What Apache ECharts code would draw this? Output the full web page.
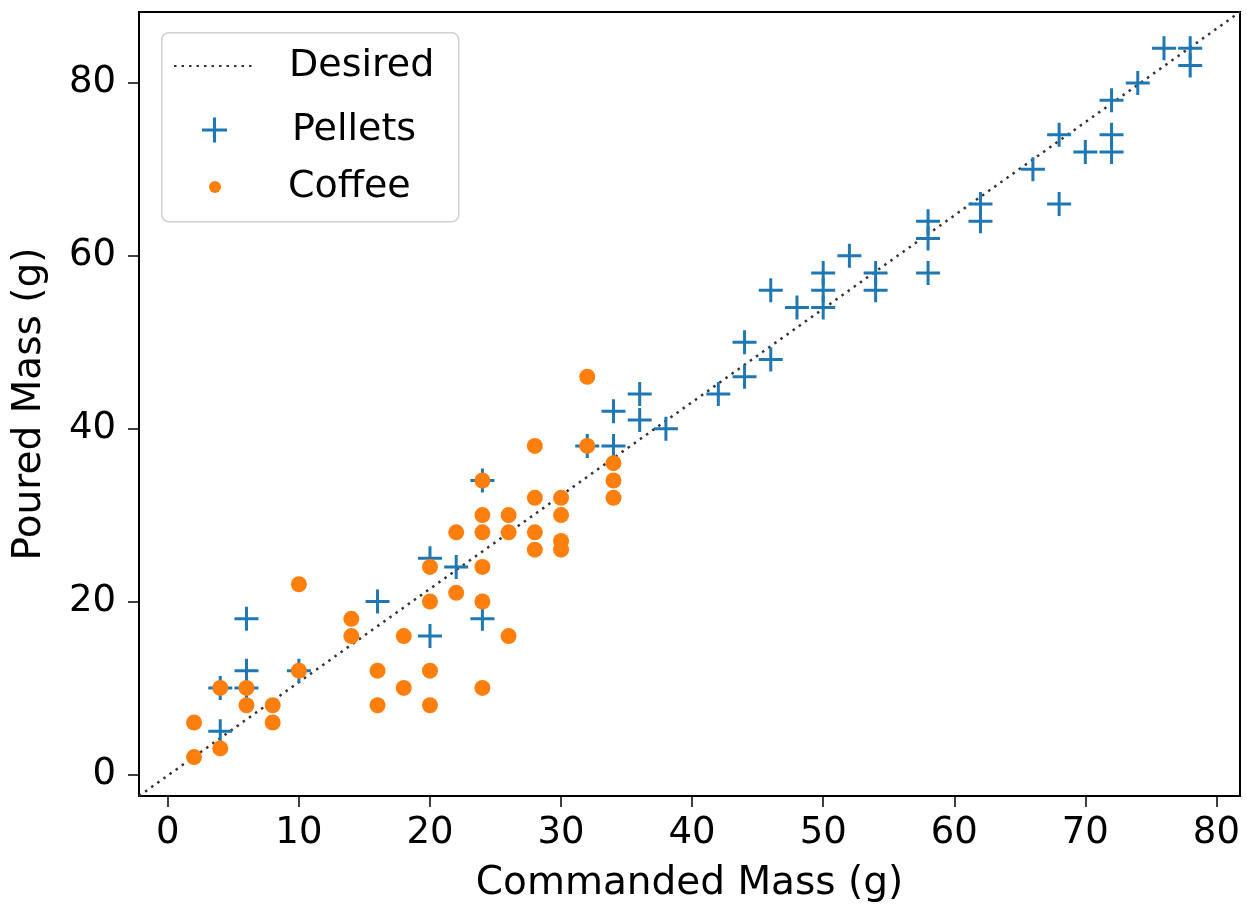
<!DOCTYPE html>
<html>
<head>
<meta charset="utf-8">
<script src="https://cdn.jsdelivr.net/npm/echarts@6/dist/echarts.min.js"></script>
<style>
  html, body { margin: 0; padding: 0; background: #fff; }
  #chart { width: 1247px; height: 908px; }
</style>
</head>
<body>
<div id="chart"></div>
<script>
// axis limits and ticks
const xLimits = [-2.2, 81.8];
const yLimits = [-2.5, 88.2];
const xTicks = [0, 10, 20, 30, 40, 50, 60, 70, 80];
const yTicks = [0, 20, 40, 60, 80];

// "Desired" reference line, corner to corner of the axes
const desiredX = [-2.2, 81.8];
const desiredY = [-2.5, 88.2];

// Pellets (commanded, poured)
const pelletsX = [4, 4, 6, 6, 6, 10, 16, 20, 20, 22, 24, 24, 32, 34, 34, 36, 36, 38, 42, 44, 44, 46, 46, 48, 50, 50, 50, 52, 54, 54, 58, 58, 58, 62, 62, 66, 68, 68, 70, 72, 72, 72, 74, 76, 78, 78];
const pelletsY = [5, 10, 10, 12, 18, 12, 20, 16, 25, 24, 34, 18, 38, 38, 42, 44, 41, 40, 44, 50, 46, 56, 48, 54, 58, 56, 54, 60, 58, 56, 64, 62, 58, 66, 64, 70, 74, 66, 72, 78, 74, 72, 80, 84, 84, 82];

// Coffee (commanded, poured)
const coffeeX = [2, 2, 4, 4, 6, 6, 8, 8, 10, 10, 14, 14, 16, 16, 18, 18, 20, 20, 20, 20, 22, 22, 24, 24, 24, 24, 24, 24, 26, 26, 26, 28, 28, 28, 28, 30, 30, 30, 30, 32, 32, 34, 34, 34];
const coffeeY = [2, 6, 3, 10, 8, 10, 6, 8, 12, 22, 16, 18, 8, 12, 10, 16, 8, 12, 20, 24, 21, 28, 10, 20, 24, 28, 30, 34, 16, 28, 30, 26, 28, 32, 38, 26, 27, 30, 32, 38, 46, 32, 34, 36];

const zip = (xs, ys) => xs.map((x, i) => [x, ys[i]]);

const plusPath = "path://M10.5,0h3v10.5h10.5v3h-10.5v10.5h-3v-10.5h-10.5v-3h10.5z";
const blue = "#1f77b4";
const orange = "#ff7f0e";
const font = "DejaVu Sans";

const chart = echarts.init(document.getElementById("chart"));

const legendBase = {
  left: 173,
  orient: "vertical",
  padding: 0,
  itemGap: 0,
  textStyle: { fontFamily: font, fontSize: 38, color: "#000", padding: [0, 0, 0, 28] },
};

const options = {
  animation: false,
  backgroundColor: "#fff",
  grid: {
    left: 139,
    top: 12,
    width: 1101,
    height: 785,
    show: true,
    borderColor: "#000",
    borderWidth: 2,
    backgroundColor: "transparent",
  },
  graphic: [
    {
      type: "rect",
      left: 161,
      top: 32,
      shape: { width: 297, height: 189, r: 7 },
      style: { fill: "rgba(255,255,255,0.8)", stroke: "#d0d0d0", lineWidth: 1.5 },
      z: 5,
    },
  ],
  legend: [
    Object.assign({}, legendBase, {
      top: 47,
      data: ["Desired"],
      itemWidth: 82,
      itemHeight: 38,
      itemStyle: { color: "rgba(0,0,0,0)", borderWidth: 0 },
      z: 10,
    }),
    Object.assign({}, legendBase, {
      top: 111,
      left: 202,
      data: ["Pellets"],
      itemWidth: 25,
      itemHeight: 38,
      textStyle: Object.assign({}, legendBase.textStyle, { padding: [0, 0, 0, 60] }),
      z: 10,
    }),
    Object.assign({}, legendBase, {
      top: 168,
      left: 209,
      data: ["Coffee"],
      itemWidth: 12,
      itemHeight: 38,
      textStyle: Object.assign({}, legendBase.textStyle, { padding: [0, 0, 0, 62] }),
      z: 10,
    }),
  ],
  xAxis: {
    type: "value",
    min: xLimits[0],
    max: xLimits[1],
    name: "Commanded Mass (g)",
    nameLocation: "middle",
    nameGap: 68,
    nameTextStyle: { fontFamily: font, fontSize: 39, color: "#000" },
    axisLine: { show: true, onZero: false, lineStyle: { color: "#000", width: 2 } },
    axisTick: {
      show: true,
      inside: false,
      length: 11,
      customValues: xTicks,
      lineStyle: { color: "#000", width: 1.5 },
    },
    axisLabel: {
      customValues: xTicks,
      margin: 19,
      fontFamily: font,
      fontSize: 37,
      color: "#000",
      showMinLabel: true,
      showMaxLabel: true,
    },
    splitLine: { show: false },
  },
  yAxis: {
    type: "value",
    min: yLimits[0],
    max: yLimits[1],
    name: "Poured Mass (g)",
    nameLocation: "middle",
    nameGap: 90,
    nameTextStyle: { fontFamily: font, fontSize: 39, color: "#000" },
    axisLine: { show: true, onZero: false, lineStyle: { color: "#000", width: 2 } },
    axisTick: {
      show: true,
      inside: false,
      length: 11,
      customValues: yTicks,
      lineStyle: { color: "#000", width: 1.5 },
    },
    axisLabel: {
      customValues: yTicks,
      margin: 23,
      fontFamily: font,
      fontSize: 37,
      color: "#000",
      showMinLabel: true,
      showMaxLabel: true,
    },
    splitLine: { show: false },
  },
  series: [
    {
      name: "Desired",
      type: "line",
      data: zip(desiredX, desiredY),
      symbol: "none",
      lineStyle: { color: "#333", width: 2.5, type: [2.5, 5] },
      z: 1,
    },
    {
      name: "Pellets",
      type: "scatter",
      data: zip(pelletsX, pelletsY),
      symbol: plusPath,
      symbolSize: 24,
      itemStyle: { color: blue, opacity: 1 },
      z: 2,
    },
    {
      name: "Coffee",
      type: "scatter",
      data: zip(coffeeX, coffeeY),
      symbol: "circle",
      symbolSize: 16,
      itemStyle: { color: orange, opacity: 1 },
      z: 3,
    },
  ],
};

chart.setOption(options);
</script>
</body>
</html>
